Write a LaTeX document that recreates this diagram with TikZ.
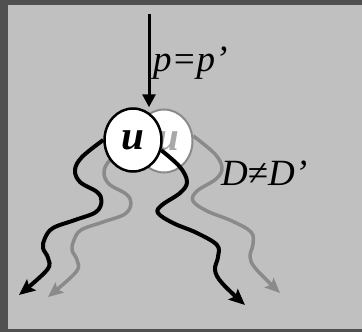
\documentclass[tikz,border=0pt]{standalone}
\usepackage{fontspec}
\setmainfont{Liberation Serif}
\usetikzlibrary{arrows.meta,shapes.geometric}
\definecolor{frameclr}{HTML}{505050}
\definecolor{panelclr}{HTML}{C0C0C0}
\definecolor{ghostclr}{HTML}{8A8A8A}
\definecolor{ghosttext}{HTML}{A8A8A8}
\begin{document}
\begin{tikzpicture}[x=1pt,y=-1pt,
  blackwave/.style={line width=4pt, line join=round, -{Stealth[length=16pt,width=14pt,inset=3pt]}},
  ghostwave/.style={draw=ghostclr, line width=3.5pt, line join=round, -{Stealth[length=15pt,width=13pt,inset=3pt]}},
  nodeball/.style={ellipse, minimum width=57pt, minimum height=63pt, inner sep=0pt, fill=white, font=\fontsize{41}{44}\selectfont\bfseries\itshape},
  lbl/.style={inner sep=0pt, anchor=base west, font=\fontsize{37}{40}\selectfont\itshape}]
\useasboundingbox (0,0) rectangle (362,332);
\fill[frameclr] (0,0) rectangle (362,332);
\fill[panelclr] (8,5) rectangle (362,329);
% ghost copy
\node[nodeball, draw=ghostclr, line width=2pt, text=ghosttext] (gu) at (164,141) {\hspace{8pt}u};
\draw[ghostwave] plot[smooth, tension=0.6] coordinates {(gu.west) (111,159) (104,172) (109,184) (126,194) (131,203) (125,214) (103,222) (81,230) (74,240) (72,250) (77,260) (76,272) (48,297)};
\draw[ghostwave] plot[smooth, tension=0.6] coordinates {(gu.10) (215,154) (222,168) (216,179) (197,191) (193,201) (207,211) (232,221) (251,232) (253,244) (250,257) (256,269) (280,293)};
% main node
\node[nodeball, draw=black, line width=2.5pt] (bu) at (133,140) {u};
\draw[blackwave] plot[smooth, tension=0.6] coordinates {(bu.west) (82,157) (75,170) (80,182) (97,192) (101.5,201) (96,212) (75,220) (53,228) (45,238) (43,248) (48,258) (47,270) (19,295)};
\draw[blackwave] plot[smooth, tension=0.6] coordinates {(bu.-20) (180,167) (187,182) (180,193) (162,205) (158,213) (173,223) (197,233) (217,245) (218,257) (215,270) (222,283) (245,305)};
% incoming arrow
\coordinate (ptop) at (149,14);
\draw[line width=3pt, -{Triangle[length=13pt,width=13pt]}] (ptop) -- (ptop |- bu.north);
% labels
\node[lbl] (plbl) at (153,71) {p=p’};
\node[lbl] (dlbl) at (221,185) {D\textup{≠}D’};
\end{tikzpicture}
\end{document}
